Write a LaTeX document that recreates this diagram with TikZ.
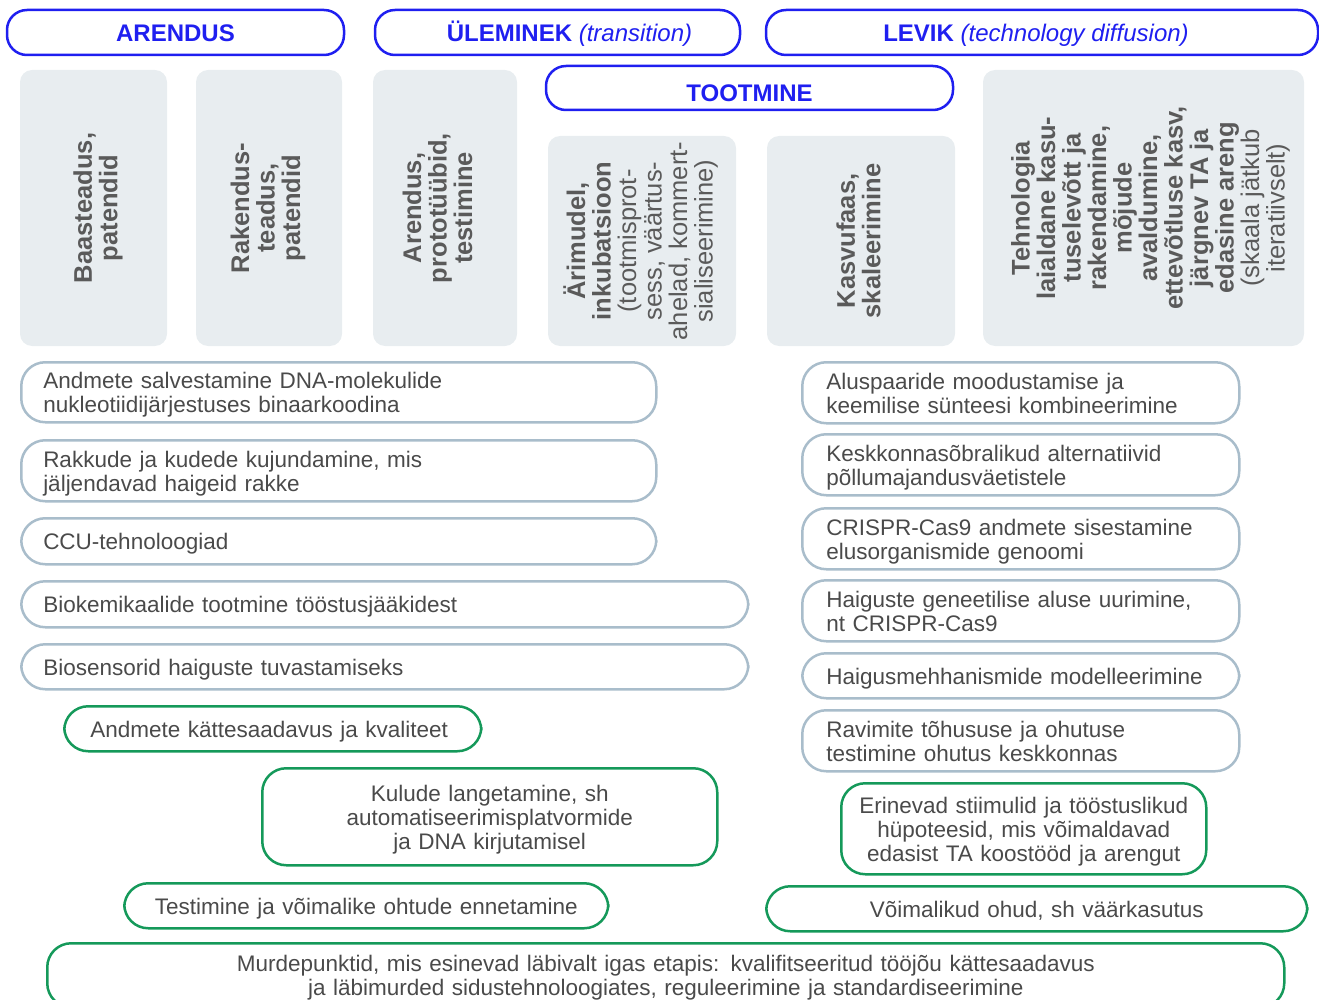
\documentclass[tikz,border=0pt]{standalone}
\usepackage{fontspec}
\setmainfont{Liberation Sans}
\usepackage{tikz}
\usetikzlibrary{positioning}

\definecolor{stageblue}{HTML}{1F1FF0}
\definecolor{phasegray}{HTML}{E8EDF0}
\definecolor{itemline}{HTML}{A9BDCB}
\definecolor{factorgreen}{HTML}{15995A}
\definecolor{textgray}{HTML}{4A4A4A}
\definecolor{phasetext}{HTML}{5A5A5A}

\begin{document}
\begin{tikzpicture}[x=1pt, y=-1pt,
    stage/.style={draw=stageblue, line width=2.5pt, rounded corners=20pt, text=stageblue,
        text height=17.2pt, text depth=0pt, font=\fontsize{24}{26}\selectfont\bfseries},
    phase/.style={fill=phasegray, rounded corners=12pt},
    phaselabel/.style={rotate=90, text=phasetext, align=center,
        font=\fontsize{25.5}{25.5}\selectfont\bfseries},
    item/.style={draw=itemline, line width=2.5pt, rounded corners=24pt, text=textgray, align=left,
        anchor=north west, inner xsep=24pt, inner ysep=0pt, font=\fontsize{22.5}{24}\selectfont,
        execute at begin node={\rule{0pt}{23pt}}, execute at end node={\rule[-6pt]{0pt}{6pt}}},
    leftitem/.style={item, inner xsep=22pt},
    factor/.style={item, draw=factorgreen, align=center}]

        % Fix the page to the reference frame (pixel units)
        \clip (0,0) rectangle (1319,1000);

        % --- Stage headers ---
        \node[stage, minimum width=337pt, minimum height=45pt] (arendus) at (175.5,32.5) {ARENDUS};
        \node[stage, minimum width=365pt, minimum height=45pt] (uleminek) at (557.5,32.5)
            {\hspace*{24pt}ÜLEMINEK {\mdseries\itshape (transition)}};
        \node[stage, minimum width=552pt, minimum height=45pt] (levik) at (1042,32.5)
            {LEVIK {\mdseries\itshape (technology diffusion)}\hspace*{12pt}};
        \node[stage, minimum width=407pt, minimum height=44pt, text height=27.2pt] (tootmine) at (749.5,88)
            {TOOTMINE};

        % --- Phase columns ---
        \node[phase, minimum width=147pt, minimum height=276pt] (baas) at (93.5,208) {};
        \node[phase, minimum width=146pt, minimum height=276pt] (rakendus) at (269,208) {};
        \node[phase, minimum width=144pt, minimum height=276pt] (proto) at (445,208) {};
        \node[phase, minimum width=188pt, minimum height=210pt] (arimudel) at (642,241) {};
        \node[phase, minimum width=188pt, minimum height=210pt] (kasvufaas) at (861,241) {};
        \node[phase, minimum width=321pt, minimum height=276pt] (diffusion) at (1143.5,208) {};

        % rotated column titles
        \node[phaselabel] (baas-t) at ([xshift=4.5pt]baas.center) {Baasteadus,\\ patendid};
        \node[phaselabel] (rakendus-t) at ([xshift=-1pt]rakendus.center) {Rakendus-\\ teadus,\\ patendid};
        \node[phaselabel] (proto-t) at ([xshift=-7.5pt]proto.center) {Arendus,\\ prototüübid,\\ testimine};
        \node[phaselabel] (arimudel-t) at ([xshift=-1.5pt]arimudel.center)
            {Ärimudel,\\ inkubatsioon\\ \mdseries(tootmisprot-\\ \mdseries sess, väärtus-\\
             \mdseries ahelad, kommert-\\ \mdseries sialiseerimine)};
        \node[phaselabel] (kasvufaas-t) at ([xshift=-2.5pt]kasvufaas.center) {Kasvufaas,\\ skaleerimine};
        \node[phaselabel] (diffusion-t) at ([xshift=7pt]diffusion.center)
            {Tehnologia\\ laialdane kasu-\\ tuselevõtt ja\\ rakendamine,\\ mõjude\\ avaldumine,\\
             ettevõtluse kasv,\\ järgnev TA ja\\ edasine areng\\ \mdseries(skaala jätkub\\
             \mdseries iteratiivselt)};

        % --- Left column items ---
        \node[leftitem, text width=591pt, minimum height=60pt] (dnasalv) at (20,361)
            {Andmete salvestamine DNA-molekulide\\ nukleotiidijärjestuses binaarkoodina};
        \node[leftitem, text width=591pt, minimum height=61pt] (rakud) at (20,439)
            {Rakkude ja kudede kujundamine, mis\\ jäljendavad haigeid rakke};
        \node[leftitem, text width=591pt, minimum height=46pt] (ccu) at (20,517) {CCU-tehnoloogiad};
        \node[leftitem, text width=683pt, minimum height=46pt] (biokem) at (20,580)
            {Biokemikaalide tootmine tööstusjääkidest};
        \node[leftitem, text width=683pt, minimum height=45pt] (biosens) at (20,643)
            {Biosensorid haiguste tuvastamiseks};

        % --- Right column items ---
        \node[item, text width=389pt, minimum height=61pt] (aluspaar) at (801,361)
            {Aluspaaride moodustamise ja\\ keemilise sünteesi kombineerimine};
        \node[item, text width=389pt, minimum height=61pt] (vaetis) at (801,433)
            {Keskkonnasõbralikud alternatiivid\\ põllumajandusväetistele};
        \node[item, text width=389pt, minimum height=61pt] (crispr) at (801,507)
            {CRISPR-Cas9 andmete sisestamine\\ elusorganismide genoomi};
        \node[item, text width=389pt, minimum height=61pt] (geneetika) at (801,579)
            {Haiguste geneetilise aluse uurimine,\\ nt CRISPR-Cas9};
        \node[item, text width=389pt, minimum height=45pt] (mehhanism) at (801,652)
            {Haigusmehhanismide modelleerimine};
        \node[item, text width=389pt, minimum height=61pt] (ravim) at (801,709)
            {Ravimite tõhususe ja ohutuse\\ testimine ohutus keskkonnas};

        % --- Breakpoints (green) ---
        \node[factor, align=left, inner xsep=26pt, text width=365pt, minimum height=45pt] (andmed) at (63,705)
            {Andmete kättesaadavus ja kvaliteet};
        \node[factor, text width=407pt, minimum height=97pt] (kulud) at (261,767)
            {Kulude langetamine, sh\\ automatiseerimisplatvormide\\ ja DNA kirjutamisel};
        \node[factor, text width=436pt, minimum height=45pt] (testimine) at (123,882)
            {Testimine ja võimalike ohtude ennetamine};
        \node[factor, inner xsep=6pt, text width=353pt, minimum height=91pt] (stiimul) at (840,782)
            {Erinevad stiimulid ja tööstuslikud\\ hüpoteesid, mis võimaldavad\\ edasist TA koostööd ja arengut};
        \node[factor, text width=493pt, minimum height=45pt] (ohud) at (765,885)
            {Võimalikud ohud, sh väärkasutus};
        \node[factor, text width=1189pt, minimum height=64pt] (murde) at (46,942)
            {Murdepunktid, mis esinevad läbivalt igas etapis: kvalifitseeritud tööjõu kättesaadavus\\
             ja läbimurded sidustehnoloogiates, reguleerimine ja standardiseerimine};

\end{tikzpicture}
\end{document}
